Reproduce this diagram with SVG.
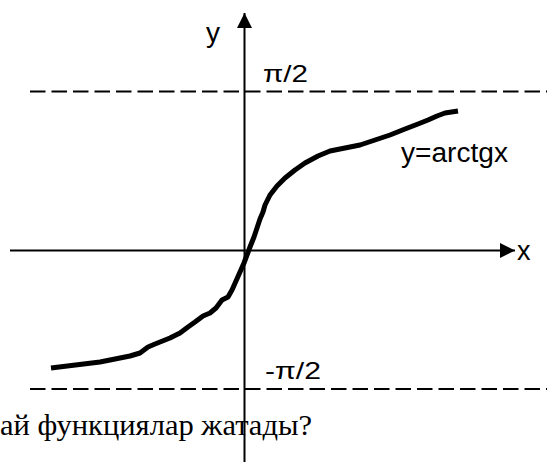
<svg xmlns="http://www.w3.org/2000/svg" width="547" height="462" viewBox="0 0 547 462">
<style>
.sans{font-family:"Liberation Sans","DejaVu Sans",sans-serif;fill:#000}
.serif{font-family:"Liberation Serif","DejaVu Serif",serif;fill:#000}
.dash{stroke:#000;stroke-width:2;stroke-dasharray:15.5 6;fill:none}
.axis{stroke:#000;stroke-width:2;fill:none}
</style>
<defs>
<marker id="arr" markerUnits="userSpaceOnUse" markerWidth="17" markerHeight="18" refX="15" refY="9" orient="auto">
<path d="M0,1.5 L15,9 L0,16.5 Z" fill="#000"/>
</marker>
</defs>
<rect width="547" height="462" fill="#fff"/>
<text class="serif" x="0" y="435" font-size="30" textLength="312" lengthAdjust="spacingAndGlyphs">ай функциялар жатады?</text>
<g id="asymptotes">
<line class="dash" x1="30" y1="91.5" x2="547" y2="91.5"/>
<line class="dash" x1="30" y1="389" x2="547" y2="389"/>
</g>
<g id="connectors">
<line id="x-axis" class="axis" x1="10" y1="250.5" x2="515" y2="250.5" marker-end="url(#arr)"/>
<line id="y-axis" class="axis" x1="244.5" y1="462" x2="244.5" y2="13" marker-end="url(#arr)"/>
</g>
<g id="curve">
<path d="M51,368 L100,362 L130,356 L140,353 L148,347 L155,344 L170,338 L180,333 L188,327 L195,322 L203,316 L210,313 L216,308 L222,300 L228,297 L232,290 L236,281 L240,272 L244,263 L247,255 L250,247 L254,237 L257,228 L260,219 L263,212 L265,205 L270,195 L277,186 L285,178 L295,170 L305,163 L318,156 L330,151 L345,148 L360,145 L375,140 L390,135 L405,129 L418,124 L428,120 L437,116 L445,113 L458,111" fill="none" stroke="#000" stroke-width="5" stroke-linejoin="round"/>
</g>
<g id="labels">
<text class="sans" x="206" y="42" font-size="28">y</text>
<text class="sans" x="263" y="82" font-size="24" textLength="45" lengthAdjust="spacingAndGlyphs">π/2</text>
<text class="sans" x="265" y="379" font-size="24" textLength="56" lengthAdjust="spacingAndGlyphs">-π/2</text>
<text class="sans" x="401" y="162" font-size="27" textLength="107" lengthAdjust="spacingAndGlyphs">y=arctgx</text>
<text class="sans" x="517" y="260" font-size="27">x</text>
</g>
</svg>
